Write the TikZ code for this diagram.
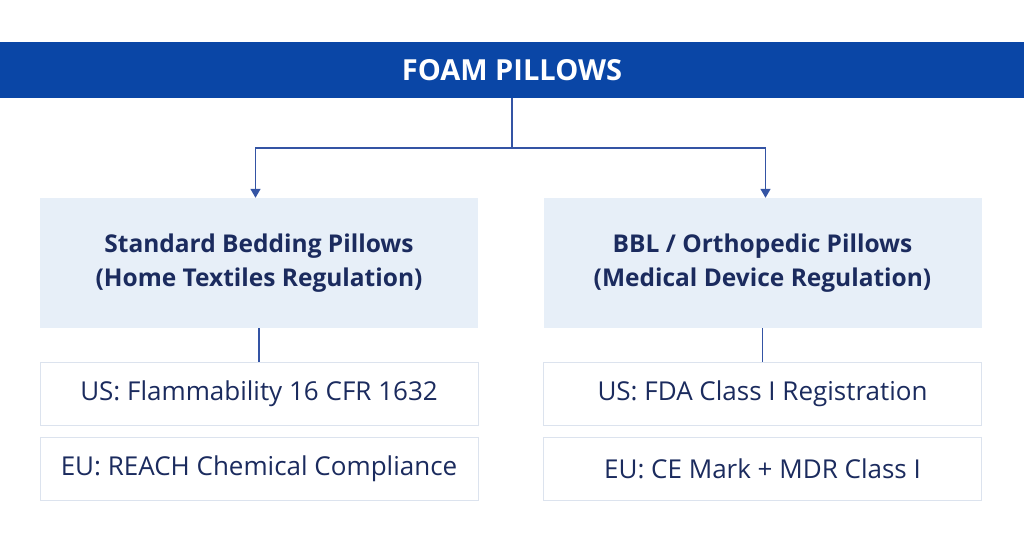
\documentclass[tikz,border=0pt]{standalone}
\usepackage{fontspec}
\setmainfont{Open Sans}
\usetikzlibrary{arrows.meta,positioning}
\definecolor{bannerblue}{HTML}{0A46A6}
\definecolor{navy}{HTML}{1B2B5E}
\definecolor{linkblue}{HTML}{3454A4}
\definecolor{catfill}{HTML}{E7EFF8}
\definecolor{itemline}{HTML}{DCE3EE}
\begin{document}
\begin{tikzpicture}[x = 1pt, y = -1pt,
  cat/.style={fill=catfill, minimum width=438pt, minimum height=130pt, align=center, text=navy, font=\fontsize{24.5}{34}\selectfont\bfseries},
  item/.style={draw=itemline, line width=1pt, fill=white, minimum width=438pt, minimum height=63pt, text=navy, font=\fontsize{26}{30}\selectfont},
  link/.style={linkblue, line width=1.5pt}]
\useasboundingbox (0,0) rectangle (1024,537);
% Banner
\node[fill=bannerblue, minimum width=1024pt, minimum height=56pt, text=white, font=\fontsize{29}{34}\selectfont\bfseries] (root) at (512,70) {FOAM PILLOWS};
% Categories
\node[cat] (std) at (259,263) {Standard Bedding Pillows\\(Home Textiles Regulation)};
\node[cat] (bbl) at (762.5,263) {BBL / Orthopedic Pillows\\(Medical Device Regulation)};
% Requirement items
\node[item] (stdus) at (259,393.5) {US: Flammability 16 CFR 1632};
\node[item] (stdeu) at (259,468.5) {EU: REACH Chemical Compliance};
\node[item] (bblus) at (762.5,393.5) {US: FDA Class I Registration};
\node[item] (bbleu) at (762.5,468.5) {EU: CE Mark + MDR Class I};
% Connectors
\coordinate (split) at (512,148);
\draw[link] (root.south) -- (split);
\draw[link, -{Triangle[width=10pt,length=9pt]}] (split) -| ([xshift=-3.5pt]std.north);
\draw[link, -{Triangle[width=10pt,length=9pt]}] (split) -| ([xshift=3pt]bbl.north);
\draw[link] (std.south) -- (stdus.north);
\draw[link] (bbl.south) -- (bblus.north);
\end{tikzpicture}
\end{document}
